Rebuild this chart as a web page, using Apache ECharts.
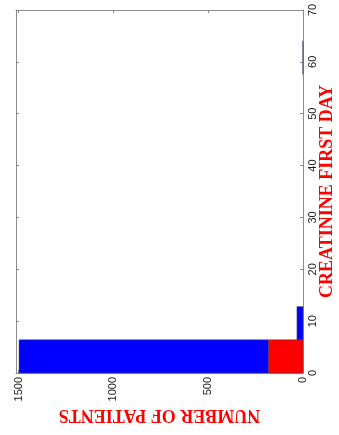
<!DOCTYPE html>
<html>
<head>
<meta charset="utf-8">
<script src="https://cdn.jsdelivr.net/npm/echarts@6/dist/echarts.min.js"></script>
<style>
html,body{margin:0;padding:0;background:#fff;}
#chart{width:339px;height:435px;}
</style>
</head>
<body>
<div id="chart"></div>
<script>
// Histogram bins of creatinine (first day)
var binEdges = [0, 6.4, 12.8, 19.2, 25.6, 32, 38.4, 44.8, 51.2, 57.6, 64];
var redCounts = [183, 0, 0, 0, 0, 0, 0, 0, 0, 0];
var blueCounts = [1315, 32, 0, 0, 0, 0, 0, 0, 0, 1];
var countTicks = [0, 500, 1000, 1500];
var creatTicks = [0, 10, 20, 30, 40, 50, 60, 70];

var redData = [], blueData = [];
for (var i = 0; i < redCounts.length; i++) {
  redData.push([binEdges[i], binEdges[i + 1], 0, redCounts[i]]);
  blueData.push([binEdges[i], binEdges[i + 1], redCounts[i], redCounts[i] + blueCounts[i]]);
}

function makeRender(color) {
  return function (params, api) {
    var y0 = api.value(0), y1 = api.value(1), c0 = api.value(2), c1 = api.value(3);
    if (c1 - c0 <= 0) return null;
    var p0 = api.coord([c0, y0]);
    var p1 = api.coord([c1, y1]);
    var x = Math.min(p0[0], p1[0]), w = Math.abs(p1[0] - p0[0]);
    var y = Math.min(p0[1], p1[1]), h = Math.abs(p1[1] - p0[1]);
    return {
      type: 'rect',
      shape: { x: x, y: y, width: w, height: h },
      style: { fill: color, stroke: '#444', lineWidth: 0.5 }
    };
  };
}

function plain(v) { return String(v); }
var axisLineStyle = { color: '#8a8a8a', width: 1 };
var chart = echarts.init(document.getElementById('chart'), null, { renderer: 'canvas' });
chart.setOption({
  animation: false,
  grid: { left: 16, right: 36, top: 10, bottom: 62, containLabel: false, outerBoundsMode: 'none' },
  xAxis: [{
    type: 'value', inverse: true, min: 0, max: 1514, position: 'bottom',
    axisLine: { show: true, onZero: false, lineStyle: axisLineStyle },
    axisTick: { show: true, inside: true, length: 3, lineStyle: axisLineStyle, customValues: countTicks },
    axisLabel: { show: true, rotate: 90, margin: 4, fontSize: 11, color: '#222',
      fontFamily: 'Liberation Sans', customValues: countTicks, formatter: plain },
    splitLine: { show: false },
    name: 'NUMBER OF PATIENTS', nameLocation: 'middle', nameRotate: 180, nameGap: 33,
    nameMoveOverlap: false,
    nameTextStyle: { color: '#ff0000', fontSize: 18, fontWeight: 'bold', fontFamily: 'Liberation Serif' }
  }, {
    type: 'value', inverse: true, min: 0, max: 1514, position: 'top',
    axisLine: { show: true, onZero: false, lineStyle: axisLineStyle },
    axisTick: { show: true, inside: true, length: 3, lineStyle: axisLineStyle, customValues: countTicks },
    axisLabel: { show: false }, splitLine: { show: false }
  }],
  yAxis: [{
    type: 'value', min: 0, max: 70, interval: 10, position: 'right',
    axisLine: { show: true, onZero: false, lineStyle: axisLineStyle },
    axisTick: { show: true, inside: true, length: 3, lineStyle: axisLineStyle },
    axisLabel: { show: true, rotate: 90, margin: 4, fontSize: 11, color: '#222',
      fontFamily: 'Liberation Sans', customValues: creatTicks, formatter: plain },
    splitLine: { show: false },
    name: 'CREATININE FIRST DAY', nameLocation: 'middle', nameRotate: 90, nameGap: 15,
    nameMoveOverlap: false,
    nameTextStyle: { color: '#ff0000', fontSize: 18, fontWeight: 'bold', fontFamily: 'Liberation Serif' }
  }, {
    type: 'value', min: 0, max: 70, interval: 10, position: 'left',
    axisLine: { show: true, onZero: false, lineStyle: axisLineStyle },
    axisTick: { show: true, inside: true, length: 3, lineStyle: axisLineStyle },
    axisLabel: { show: false }, splitLine: { show: false }
  }],
  series: [{
    type: 'custom', xAxisIndex: 0, yAxisIndex: 0,
    renderItem: makeRender('#ff0000'), data: redData,
    encode: { x: [2, 3], y: [0, 1] }
  }, {
    type: 'custom', xAxisIndex: 0, yAxisIndex: 0,
    renderItem: makeRender('#0000ff'), data: blueData,
    encode: { x: [2, 3], y: [0, 1] }
  }]
});
</script>
</body>
</html>
